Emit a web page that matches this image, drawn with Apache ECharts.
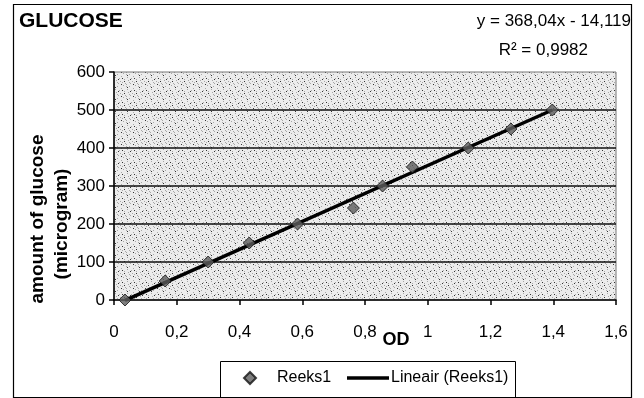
<!DOCTYPE html>
<html>
<head>
<meta charset="utf-8">
<script src="https://cdn.jsdelivr.net/npm/echarts@6/dist/echarts.min.js"></script>
<style>
  html, body { margin: 0; padding: 0; background: #fff; }
  #chart { width: 644px; height: 398px; }
</style>
</head>
<body>
<div id="chart"></div>
<script>
// Glucose calibration: optical density vs. amount of glucose
const odValues = [0.035, 0.163, 0.30, 0.431, 0.585, 0.763, 0.856, 0.951, 1.129, 1.265, 1.397];
const glucoseValues = [0, 50, 100, 150, 200, 242, 300, 350, 400, 450, 500];

// Linear trendline coefficients (as printed on the chart)
const trendSlope = 368.04;
const trendIntercept = -14.119;
const equationText = 'y = 368,04x - 14,119';
const r2Text = 'R² = 0,9982';

const seriesName = 'Reeks1';
const trendName = 'Lineair (Reeks1)';

const FONT = "'Liberation Sans', Arial, sans-serif";

// Stippled plot-area fill
function stipplePattern() {
  const c = document.createElement('canvas');
  c.width = 12; c.height = 12;
  const g = c.getContext('2d');
  g.fillStyle = '#ececec';
  g.fillRect(0, 0, 12, 12);
  const dark = [[1,0],[7,3],[10,7],[4,9],[2,6]];
  const mid = [[3,1],[9,2],[1,4],[7,5],[11,6],[4,7],[2,10],[8,8],[10,11],[6,2],[0,9],[5,11],[9,10],[6,0]];
  g.fillStyle = '#333';
  dark.forEach(p => g.fillRect(p[0], p[1], 1, 1));
  g.fillStyle = '#a8a8a8';
  mid.forEach(p => g.fillRect(p[0], p[1], 1, 1));
  return { image: c, repeat: 'repeat' };
}

const points = odValues.map((x, i) => [x, glucoseValues[i]]);
const xMin = Math.min(...odValues);
const xMax = Math.max(...odValues);
const trendPoints = [xMin, xMax].map(x => [x, trendSlope * x + trendIntercept]);

const comma = v => String(Math.round(v * 10) / 10).replace('.', ',');

const chart = echarts.init(document.getElementById('chart'), null, { renderer: 'canvas' });
chart.setOption({
  animation: false,
  backgroundColor: '#fff',
  textStyle: { fontFamily: FONT },
  title: {
    text: 'GLUCOSE',
    left: 19, top: 11,
    padding: 0,
    textStyle: { fontFamily: FONT, fontSize: 21, fontWeight: 'bold', color: '#000' }
  },
  grid: {
    left: 114, right: 28, top: 72, bottom: 98,
    show: true,
    backgroundColor: stipplePattern(),
    borderColor: '#777',
    borderWidth: 1
  },
  xAxis: {
    type: 'value',
    min: 0, max: 1.6, interval: 0.2,
    axisLine: { onZero: false, lineStyle: { color: '#000', width: 1.5 } },
    axisTick: { show: true, length: 5, lineStyle: { color: '#000', width: 1.5 } },
    axisLabel: { color: '#000', fontSize: 17, fontFamily: FONT, margin: 24, formatter: comma },
    splitLine: { show: false }
  },
  yAxis: {
    type: 'value',
    min: 0, max: 600, interval: 100,
    axisLine: { show: true, lineStyle: { color: '#000', width: 1.5 } },
    axisTick: { show: true, length: 5, lineStyle: { color: '#000', width: 1.5 } },
    axisLabel: { color: '#000', fontSize: 17, fontFamily: FONT, margin: 9 },
    splitLine: { show: true, showMinLine: false, showMaxLine: false, lineStyle: { color: '#111', width: 1.5 } }
  },
  legend: [
    {
      data: [seriesName],
      left: 243, top: 370, padding: 0,
      itemWidth: 12, itemHeight: 12,
      textStyle: { fontFamily: FONT, fontSize: 16, color: '#000', padding: [0, 0, 0, 16] }
    },
    {
      data: [{ name: trendName, icon: 'rect' }],
      left: 347, top: 370, padding: 0,
      itemWidth: 42, itemHeight: 3.5,
      textStyle: { fontFamily: FONT, fontSize: 16, color: '#000', padding: [0, 0, 0, -3] }
    }
  ],
  series: [
    {
      name: trendName,
      type: 'line',
      data: trendPoints,
      symbol: 'none',
      lineStyle: { color: '#000', width: 3.5 },
      itemStyle: { color: '#000' },
      z: 2
    },
    {
      name: seriesName,
      type: 'scatter',
      data: points,
      symbol: 'diamond',
      symbolSize: 12,
      itemStyle: { color: '#5e5e5e', borderColor: '#111', borderWidth: 1 },
      z: 3
    }
  ],
  graphic: [
    {
      type: 'rect',
      shape: { x: 13.5, y: 4.5, width: 618, height: 393 },
      style: { fill: null, stroke: '#000', lineWidth: 1.2 },
      silent: true, z: -1
    },
    {
      type: 'rect',
      shape: { x: 220.5, y: 361.5, width: 295, height: 40 },
      style: { fill: null, stroke: '#000', lineWidth: 1 },
      silent: true
    },
    {
      type: 'text',
      x: 631, y: 21,
      style: { text: equationText, font: '17px ' + FONT, fill: '#000', align: 'right', verticalAlign: 'middle' }
    },
    {
      type: 'text',
      x: 588, y: 50,
      style: { text: r2Text, font: '17px ' + FONT, fill: '#000', align: 'right', verticalAlign: 'middle' }
    },
    {
      type: 'text',
      x: 38, y: 219,
      rotation: Math.PI / 2,
      style: { text: 'amount of glucose', font: 'bold 19px ' + FONT, fill: '#000', align: 'center', verticalAlign: 'middle' }
    },
    {
      type: 'text',
      x: 62, y: 224,
      rotation: Math.PI / 2,
      style: { text: '(microgram)', font: 'bold 19px ' + FONT, fill: '#000', align: 'center', verticalAlign: 'middle' }
    },
    {
      type: 'text',
      x: 396, y: 340,
      style: { text: 'OD', font: 'bold 18px ' + FONT, fill: '#000', align: 'center', verticalAlign: 'middle' }
    }
  ]
});
</script>
</body>
</html>
